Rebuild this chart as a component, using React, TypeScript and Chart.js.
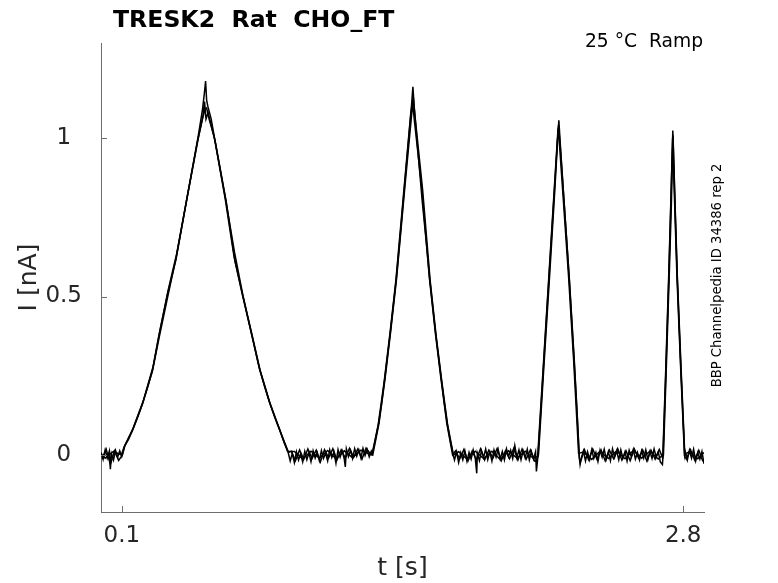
import { useEffect, useRef } from "react";
import Chart from "chart.js/auto";

// tick positions on both axes
const xTicks = [0.1, 2.8];
const yTicks = [0, 0.5, 1];

// sweep 1 (t [s], I [nA]) - tallest tips
const rep1: [number, number][] = [
  [0.0, 0.008], [0.01, -0.014], [0.02, 0.016], [0.03, -0.01], [0.04, 0.012], [0.045, -0.045], [0.05, 0.004],
  [0.06, -0.016], [0.07, 0.014], [0.08, -0.007], [0.09, 0.013], [0.1, -0.005],
  [0.113, 0.027], [0.133, 0.05], [0.153, 0.08], [0.177, 0.12], [0.201, 0.165], [0.225, 0.215], [0.249, 0.27],
  [0.281, 0.375], [0.321, 0.5], [0.362, 0.625], [0.413, 0.81], [0.466, 1.0], [0.488, 1.09], [0.497, 1.14],
  [0.503, 1.18], [0.508, 1.12], [0.514, 1.1], [0.53, 1.06], [0.546, 1.0], [0.599, 0.808], [0.642, 0.64],
  [0.682, 0.505], [0.723, 0.385], [0.763, 0.27], [0.787, 0.215], [0.811, 0.165], [0.835, 0.12], [0.859, 0.08],
  [0.88, 0.04], [0.899, 0.011],
  [0.91, -0.019], [0.92, 0.005], [0.93, -0.024], [0.94, 0.01], [0.95, -0.016], [0.96, 0.004], [0.97, -0.022],
  [0.98, 0.011], [0.99, -0.015], [1.0, 0.007], [1.01, -0.021], [1.02, 0.013], [1.03, -0.01], [1.04, 0.008],
  [1.05, -0.018], [1.06, 0.014], [1.07, -0.011], [1.08, 0.005], [1.09, -0.019], [1.1, 0.016], [1.11, -0.008],
  [1.12, 0.01], [1.13, -0.026], [1.14, 0.017], [1.15, -0.007], [1.16, 0.013], [1.17, -0.013], [1.175, -0.038],
  [1.18, 0.019], [1.19, -0.005], [1.2, 0.015], [1.21, -0.011], [1.22, 0.02], [1.23, -0.004], [1.24, 0.016],
  [1.25, -0.009], [1.26, 0.021], [1.27, -0.002], [1.28, 0.017], [1.29, -0.006], [1.3, 0.012],
  [1.305, 0.004], [1.32, 0.05], [1.335, 0.1], [1.35, 0.165], [1.364, 0.238], [1.392, 0.39], [1.42, 0.555],
  [1.44, 0.7], [1.46, 0.85], [1.48, 1.0], [1.492, 1.09], [1.5, 1.162], [1.506, 1.1], [1.52, 0.99], [1.545, 0.8],
  [1.563, 0.68], [1.581, 0.555], [1.61, 0.38], [1.637, 0.238], [1.651, 0.165], [1.665, 0.1], [1.68, 0.045],
  [1.693, 0.002],
  [1.7, -0.016], [1.71, 0.01], [1.72, -0.024], [1.73, 0.007], [1.74, -0.015], [1.75, 0.013], [1.76, -0.02],
  [1.77, 0.008], [1.78, -0.013], [1.79, 0.016], [1.8, -0.01], [1.807, -0.058], [1.81, 0.005], [1.82, -0.018],
  [1.83, 0.014], [1.84, -0.008], [1.85, 0.019], [1.86, -0.015], [1.87, 0.01], [1.88, -0.019], [1.89, 0.016],
  [1.9, -0.007], [1.91, 0.018], [1.92, -0.013], [1.93, 0.011], [1.94, -0.016], [1.95, 0.019], [1.96, -0.005],
  [1.97, 0.015], [1.98, -0.011], [1.99, 0.03], [2.0, -0.008], [2.01, 0.016], [2.02, -0.015], [2.03, 0.013],
  [2.04, -0.01], [2.05, 0.018], [2.06, -0.016], [2.07, 0.011], [2.08, -0.013], [2.09, 0.01],
  [2.094, -0.052], [2.102, 0.0], [2.116, 0.15], [2.13, 0.3], [2.155, 0.565], [2.18, 0.83], [2.195, 0.99],
  [2.202, 1.056], [2.208, 0.99], [2.226, 0.81], [2.251, 0.565], [2.275, 0.3], [2.29, 0.13], [2.299, 0.0],
  [2.304, -0.03], [2.31, -0.01], [2.32, 0.013], [2.33, -0.019], [2.34, 0.01], [2.35, -0.015], [2.36, 0.016],
  [2.37, -0.011], [2.38, 0.008], [2.39, -0.021], [2.4, 0.015], [2.41, -0.007], [2.42, 0.018], [2.43, -0.013],
  [2.44, 0.011], [2.45, -0.018], [2.46, 0.019], [2.47, -0.008], [2.48, 0.013], [2.49, -0.015], [2.5, 0.016],
  [2.51, -0.01], [2.52, 0.01], [2.53, -0.019], [2.54, 0.015], [2.55, -0.005], [2.56, 0.018], [2.57, -0.013],
  [2.58, 0.008], [2.59, -0.016], [2.6, 0.013], [2.61, -0.01], [2.62, 0.016], [2.63, -0.015], [2.64, 0.011],
  [2.65, -0.011], [2.66, 0.019], [2.67, -0.007], [2.68, 0.01], [2.69, -0.022],
  [2.7, -0.03], [2.703, -0.004], [2.717, 0.27], [2.731, 0.565], [2.741, 0.8], [2.75, 1.024], [2.76, 0.8],
  [2.771, 0.565], [2.789, 0.27], [2.807, 0.0],
  [2.81, 0.01], [2.82, -0.016], [2.83, 0.015], [2.84, -0.01], [2.85, 0.018], [2.86, -0.019], [2.87, 0.007],
  [2.88, -0.013], [2.89, 0.011], [2.9, -0.028],
];

// sweep 2
const rep2: [number, number][] = [
  [0.005, -0.012], [0.025, 0.018], [0.045, -0.03], [0.065, 0.013], [0.085, -0.017], [0.103, 0.0],
  [0.115, 0.03], [0.155, 0.085], [0.203, 0.17], [0.251, 0.28], [0.283, 0.39], [0.323, 0.52], [0.364, 0.635],
  [0.415, 0.815], [0.468, 1.0], [0.49, 1.07], [0.498, 1.115], [0.505, 1.06], [0.515, 1.08], [0.549, 0.99],
  [0.602, 0.8], [0.645, 0.61], [0.685, 0.495], [0.726, 0.38], [0.766, 0.265], [0.814, 0.16], [0.862, 0.075],
  [0.902, 0.008],
  [0.915, 0.012], [0.935, -0.018], [0.955, 0.016], [0.975, -0.014], [0.995, 0.019], [1.015, -0.011],
  [1.035, 0.015], [1.055, -0.022], [1.075, 0.017], [1.095, -0.009], [1.115, 0.02], [1.135, -0.015],
  [1.155, 0.016], [1.175, -0.01], [1.195, 0.021], [1.215, -0.007], [1.235, 0.019], [1.255, -0.013],
  [1.275, 0.022], [1.295, 0.004],
  [1.307, 0.0], [1.337, 0.1], [1.366, 0.24], [1.394, 0.395], [1.422, 0.56], [1.462, 0.85], [1.492, 1.06],
  [1.499, 1.11], [1.508, 1.05], [1.543, 0.84], [1.579, 0.56], [1.608, 0.385], [1.635, 0.24], [1.663, 0.1],
  [1.691, 0.0],
  [1.705, 0.013], [1.725, -0.012], [1.745, 0.017], [1.765, -0.019], [1.785, 0.012], [1.805, -0.015],
  [1.825, 0.019], [1.845, -0.016], [1.865, 0.015], [1.885, -0.01], [1.905, 0.02], [1.925, -0.018],
  [1.945, 0.013], [1.965, -0.012], [1.985, 0.021], [2.005, -0.016], [2.025, 0.019], [2.045, -0.013],
  [2.065, 0.016], [2.085, -0.019],
  [2.092, -0.02], [2.104, 0.0], [2.131, 0.29], [2.157, 0.56], [2.182, 0.83], [2.2, 1.04], [2.207, 0.99],
  [2.228, 0.79], [2.253, 0.55], [2.277, 0.29], [2.301, -0.01],
  [2.305, -0.024], [2.325, 0.017], [2.345, -0.015], [2.365, 0.019], [2.385, -0.013], [2.405, 0.016],
  [2.425, -0.019], [2.445, 0.015], [2.465, -0.012], [2.485, 0.02], [2.505, -0.016], [2.525, 0.013],
  [2.545, -0.018], [2.565, 0.019], [2.585, -0.01], [2.605, 0.016], [2.625, -0.019], [2.645, 0.015],
  [2.665, -0.013], [2.685, 0.017],
  [2.701, -0.01], [2.705, 0.0], [2.719, 0.28], [2.733, 0.57], [2.743, 0.79], [2.751, 1.01], [2.761, 0.79],
  [2.772, 0.56], [2.79, 0.27], [2.808, -0.005],
  [2.815, -0.013], [2.835, 0.017], [2.855, -0.016], [2.875, 0.015], [2.895, -0.021],
];

// sweep 3
const rep3: [number, number][] = [
  [0.0, 0.004], [0.02, -0.01], [0.06, 0.011], [0.098, 0.0],
  [0.111, 0.025], [0.151, 0.078], [0.199, 0.16], [0.247, 0.265], [0.279, 0.38], [0.319, 0.505], [0.36, 0.615],
  [0.411, 0.8], [0.464, 0.99], [0.488, 1.06], [0.5, 1.09], [0.508, 1.095], [0.52, 1.06], [0.544, 1.005],
  [0.597, 0.81], [0.64, 0.625], [0.68, 0.505], [0.721, 0.39], [0.761, 0.275], [0.809, 0.17], [0.857, 0.083],
  [0.897, 0.012],
  [0.93, 0.011], [0.97, -0.013], [1.01, 0.012], [1.05, -0.01], [1.09, 0.014], [1.13, -0.012], [1.17, 0.013],
  [1.21, -0.009], [1.25, 0.015], [1.29, 0.003],
  [1.303, 0.0], [1.333, 0.095], [1.362, 0.232], [1.39, 0.385], [1.418, 0.55], [1.458, 0.845], [1.49, 1.08],
  [1.502, 1.13], [1.51, 1.07], [1.547, 0.835], [1.583, 0.55], [1.612, 0.375], [1.639, 0.232], [1.667, 0.095],
  [1.695, 0.0],
  [1.72, 0.01], [1.76, -0.013], [1.8, 0.012], [1.84, -0.011], [1.88, 0.012], [1.92, -0.014], [1.96, 0.013],
  [2.0, -0.01], [2.04, 0.012], [2.08, -0.011],
  [2.1, -0.005], [2.128, 0.29], [2.153, 0.555], [2.178, 0.82], [2.198, 1.03], [2.205, 0.98], [2.224, 0.8],
  [2.249, 0.56], [2.273, 0.3], [2.297, 0.005],
  [2.32, 0.009], [2.36, -0.014], [2.4, 0.012], [2.44, -0.011], [2.48, 0.013], [2.52, -0.012], [2.56, 0.014],
  [2.6, -0.01], [2.64, 0.012], [2.68, -0.013],
  [2.702, 0.0], [2.716, 0.27], [2.73, 0.56], [2.74, 0.79], [2.749, 1.0], [2.759, 0.79], [2.77, 0.56],
  [2.788, 0.27], [2.806, 0.0],
  [2.83, 0.011], [2.87, -0.012], [2.9, 0.008],
];

const sweeps = [rep1, rep2, rep3];

const FONT = "'DejaVu Sans', sans-serif";
const axisColor = "#6e6e6e";
const labelColor = "#262626";

// inward ticks + the free-standing texts
const overlayPlugin = {
  id: "overlay",
  afterDraw(chart: any) {
    const { ctx, chartArea, scales } = chart;
    ctx.save();
    ctx.strokeStyle = axisColor;
    ctx.lineWidth = 1;
    ctx.beginPath();
    for (const v of xTicks) {
      const px = Math.round(scales.x.getPixelForValue(v)) + 0.5;
      ctx.moveTo(px, chartArea.bottom);
      ctx.lineTo(px, chartArea.bottom - 6);
    }
    for (const v of yTicks) {
      const py = Math.round(scales.y.getPixelForValue(v)) + 0.5;
      ctx.moveTo(chartArea.left, py);
      ctx.lineTo(chartArea.left + 6, py);
    }
    ctx.stroke();

    ctx.fillStyle = "#000";
    ctx.textBaseline = "alphabetic";
    ctx.font = `bold 23.6px ${FONT}`;
    ctx.textAlign = "left";
    ctx.fillText("TRESK2  Rat  CHO_FT", 113, 27);

    ctx.font = `18.7px ${FONT}`;
    ctx.textAlign = "right";
    ctx.fillText("25 °C  Ramp", 703, 47);

    ctx.font = `13.2px ${FONT}`;
    ctx.textAlign = "center";
    ctx.translate(721, 275.5);
    ctx.rotate(-Math.PI / 2);
    ctx.fillText("BBP Channelpedia ID 34386 rep 2", 0, 0);
    ctx.restore();
  },
};

export default function App() {
  const canvasRef = useRef<HTMLCanvasElement>(null);
  const chartRef = useRef<Chart | null>(null);

  useEffect(() => {
    if (!canvasRef.current) return;
    if (chartRef.current) chartRef.current.destroy();

    chartRef.current = new Chart(canvasRef.current, {
      type: "line",
      data: {
        datasets: sweeps.map((s) => ({
          data: s.map(([x, y]) => ({ x, y })),
          borderColor: "#000",
          borderWidth: 1.5,
          pointRadius: 0,
          fill: false,
          tension: 0,
        })),
      },
      options: {
        responsive: false,
        animation: false,
        layout: { padding: { left: 0, right: 74, top: 43, bottom: 0 } },
        plugins: { legend: { display: false }, tooltip: { enabled: false } },
        scales: {
          x: {
            type: "linear",
            min: 0,
            max: 2.9,
            afterBuildTicks: (s: any) => {
              s.ticks = xTicks.map((value) => ({ value }));
            },
            afterFit: (s: any) => {
              s.height = 71;
            },
            grid: { display: false, drawTicks: false },
            border: { display: true, color: axisColor, width: 1 },
            ticks: {
              autoSkip: false,
              maxRotation: 0,
              padding: 10,
              color: labelColor,
              font: { family: FONT, size: 23 },
              callback: (v: any) => String(v),
            },
            title: {
              display: true,
              text: "t [s]",
              color: labelColor,
              font: { family: FONT, size: 25 },
              padding: 0,
            },
          },
          y: {
            type: "linear",
            min: -0.18,
            max: 1.3,
            afterBuildTicks: (s: any) => {
              s.ticks = yTicks.map((value) => ({ value }));
            },
            afterFit: (s: any) => {
              s.width = 101;
            },
            grid: { display: false, drawTicks: false },
            border: { display: true, color: axisColor, width: 1 },
            ticks: {
              autoSkip: false,
              padding: 19,
              crossAlign: "center",
              color: labelColor,
              font: { family: FONT, size: 23 },
              callback: (v: any) => String(v),
            },
            title: {
              display: true,
              text: "I [nA]",
              color: labelColor,
              font: { family: FONT, size: 25 },
              padding: { top: 14, bottom: 0 },
            },
          },
        },
      },
      plugins: [overlayPlugin],
    } as any);

    return () => {
      if (chartRef.current) {
        chartRef.current.destroy();
        chartRef.current = null;
      }
    };
  }, []);

  return (
    <div style={{ position: "fixed", left: 0, top: 0, width: 778, height: 583, background: "#fff" }}>
      <canvas ref={canvasRef} width={778} height={583} />
    </div>
  );
}
